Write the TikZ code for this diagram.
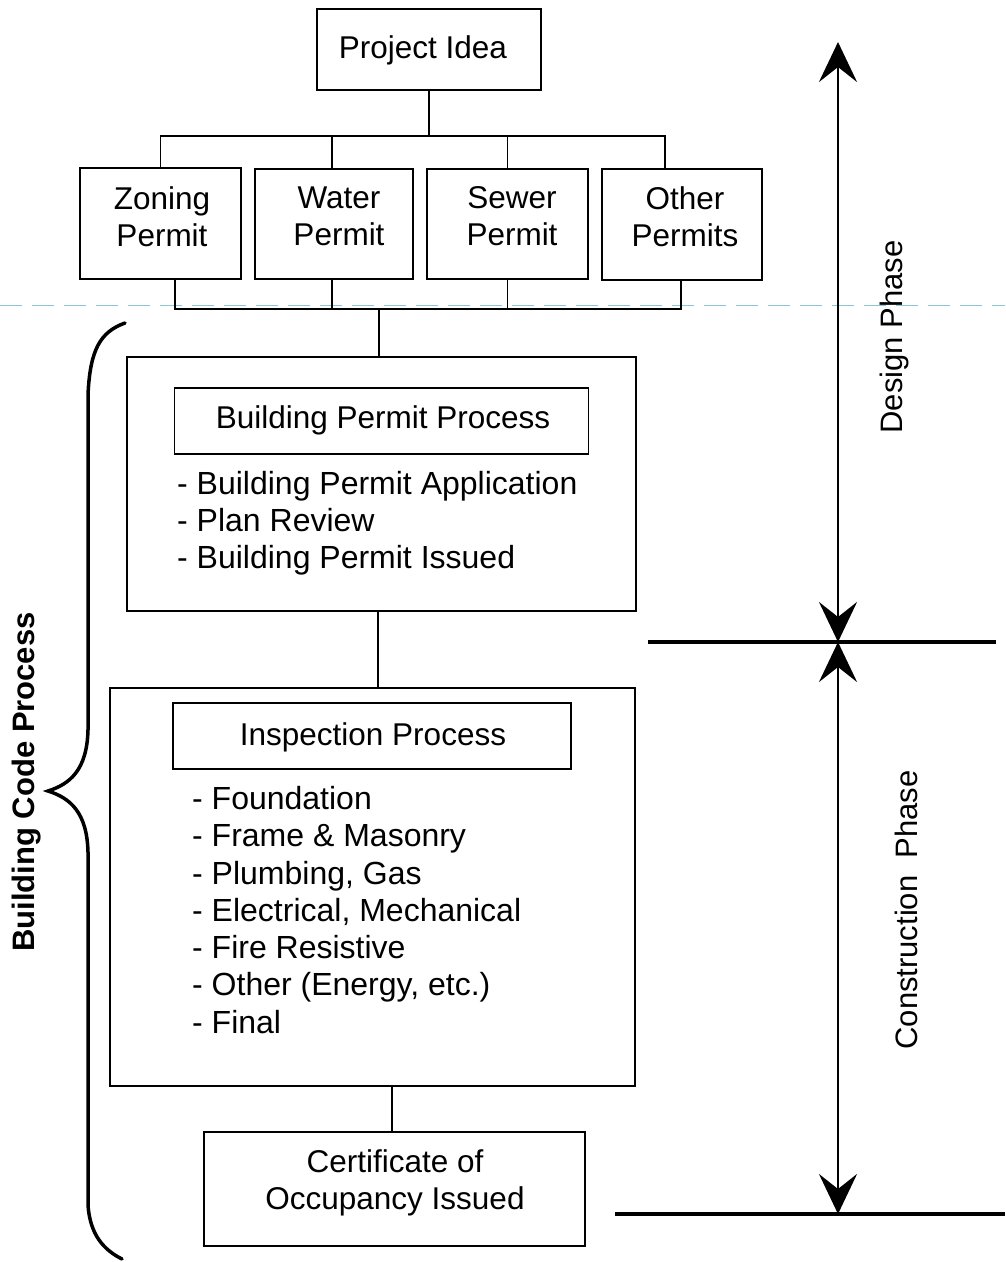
\documentclass[tikz,border=0pt]{standalone}
\usepackage{fontspec}
\setmainfont{Liberation Sans}
\usetikzlibrary{arrows.meta}
\definecolor{scanline}{RGB}{140,200,210}
\begin{document}
\begin{tikzpicture}[x=1pt,y=-1pt,
  box/.style={draw, line width=1.8pt, rectangle, inner sep=0pt},
  txt/.style={inner sep=0pt, align=center, font=\fontsize{31.5}{37}\selectfont},
  items/.style={inner sep=0pt, align=left, anchor=north west, font=\fontsize{32}{37.3}\selectfont},
  conn/.style={line width=1.5pt},
  phase/.style={line width=2.8pt, {Stealth[length=40pt,width=38pt,inset=15pt]}-{Stealth[length=40pt,width=38pt,inset=15pt]}},
  rule/.style={line width=4.5pt},
  lbl/.style={inner sep=0pt, rotate=90, font=\fontsize{31}{37}\selectfont}]
\useasboundingbox (0,0) rectangle (1005,1262);
\fill[white] (0,0) rectangle (1005,1262);
% faint scan line
\draw[scanline, line width=1pt, dash pattern=on 22pt off 10pt] (0,305) -- (1005,305);

% boxes
\node[box, minimum width=224pt, minimum height=81pt] (pi) at (429,49.5) {};
\node[txt] (piT) at (423,50) {Project Idea};
\node[box, minimum width=161pt, minimum height=111pt] (zon) at (160.5,223.5) {};
\node[box, minimum width=158pt, minimum height=110pt] (wat) at (334,224) {};
\node[box, minimum width=161pt, minimum height=110pt] (sew) at (507.5,224) {};
\node[box, minimum width=160pt, minimum height=111pt] (oth) at (682,224.5) {};
\node[txt] (zonT) at (162,216.5) {Zoning\\Permit};
\node[txt] (watT) at (339,216.5) {Water\\Permit};
\node[txt] (sewT) at (512,216.5) {Sewer\\Permit};
\node[txt] (othT) at (685,216.5) {Other\\Permits};

\node[box, minimum width=509pt, minimum height=254pt] (bp) at (381.5,484) {};
\node[box, minimum width=414pt, minimum height=66pt] (bph) at (381.5,421) {};
\node[txt] (bphT) at (383,420) {Building Permit Process};
\node[items] (bpI) at (177,471) {- Building Permit Application\\- Plan Review\\- Building Permit Issued};

\node[box, minimum width=525pt, minimum height=398pt] (ip) at (372.5,887) {};
\node[box, minimum width=398pt, minimum height=66pt] (iph) at (372,736) {};
\node[txt] (iphT) at (373,737) {Inspection Process};
\node[items] (ipI) at (192,786) {- Foundation\\- Frame \& Masonry\\- Plumbing, Gas\\- Electrical, Mechanical\\- Fire Resistive\\- Other (Energy, etc.)\\- Final};

\node[box, minimum width=381pt, minimum height=114pt] (co) at (394.5,1189) {};
\node[txt] (coT) at (395,1183) {Certificate of\\Occupancy Issued};

% connectors
\coordinate (b1) at (429,136);
\coordinate (b2) at (379,309);
\draw[conn] (pi.south) -- (b1);
\draw[conn] (zon.north) -- (zon.north |- b1) -- ([xshift=-17pt]oth.north |- b1) -- ([xshift=-17pt]oth.north);
\draw[conn] ([xshift=-2pt]wat.north) -- ([xshift=-2pt]wat.north |- b1);
\draw[conn] (sew.north) -- (sew.north |- b1);
\draw[conn] ([xshift=14.5pt]zon.south) -- ([xshift=14.5pt]zon.south |- b2) -- ([xshift=-1pt]oth.south |- b2) -- ([xshift=-1pt]oth.south);
\draw[conn] ([xshift=-2pt]wat.south) -- ([xshift=-2pt]wat.south |- b2);
\draw[conn] (sew.south) -- (sew.south |- b2);
\draw[conn] (b2) -- (b2 |- bp.north);
\draw[conn] ([xshift=-3.5pt]bp.south) -- ([xshift=-3.5pt]bp.south |- ip.north);
\draw[conn] ([xshift=19.5pt]ip.south) -- ([xshift=19.5pt]ip.south |- co.north);

% phases
\coordinate (ptop) at (838,42);
\coordinate (pmid) at (838,642);
\coordinate (pbot) at (838,1214);
\coordinate (r1a) at (648,642);
\coordinate (r1b) at (996,642);
\coordinate (r2a) at (615,1214);
\coordinate (r2b) at (1005,1214);
\draw[rule] (r1a) -- (r1b);
\draw[rule] (r2a) -- (r2b);
\draw[phase] (ptop) -- (pmid);
\draw[phase] (pmid) -- (pbot);
\node[lbl] (dp) at (894,337) {Design Phase};
\node[lbl] (cp) at (906,910) {Construction\ \ Phase};

% brace
\draw[line width=3.5pt, line cap=round]
  (125,323) .. controls (100,332) and (90,350) .. (88,395) -- (88,730)
  .. controls (87,770) and (70,784) .. (48,791)
  .. controls (70,798) and (87,812) .. (88,852) -- (88,1205)
  .. controls (90,1235) and (104,1250) .. (122,1259);
\node[lbl, font=\fontsize{31}{37}\selectfont\bfseries] (bcp) at (27,782) {Building Code Process};
\end{tikzpicture}
\end{document}
